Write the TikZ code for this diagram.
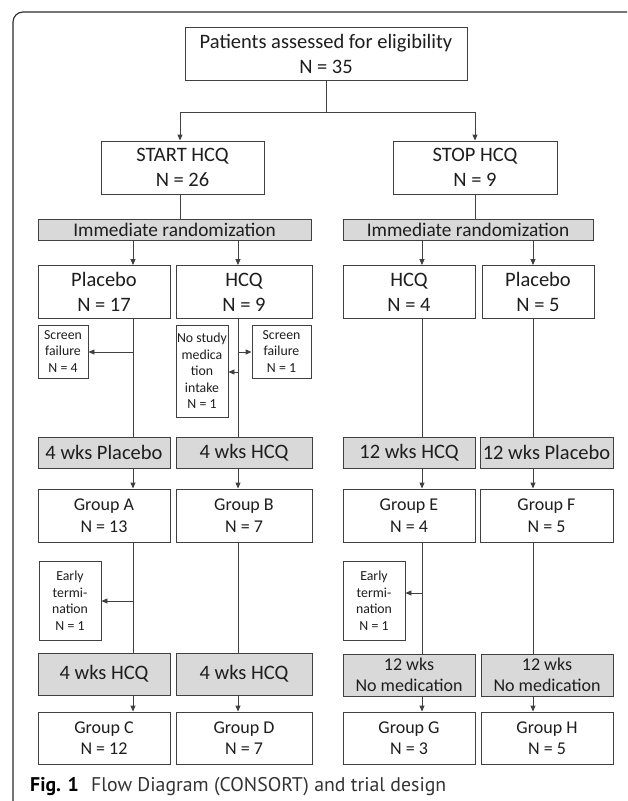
\documentclass[tikz,border=0pt]{standalone}
\usepackage{fontspec}
\setmainfont{Carlito}
\newfontfamily\capfont{PT Sans}
\usetikzlibrary{arrows.meta}
\definecolor{ln}{HTML}{404040}
\definecolor{gfill}{HTML}{D9D9D9}
\definecolor{txt}{HTML}{1E1E1E}
\definecolor{frm}{HTML}{2A2A2A}
\definecolor{captx}{HTML}{333333}
\tikzset{
 box/.style={draw=ln, line width=0.9pt, fill=white, inner sep=0pt, align=center, text=txt, font=\fontsize{20.5}{25}\selectfont},
 gbox/.style={box, fill=gfill},
 rbox/.style={gbox, font=\fontsize{19.3}{23}\selectfont},
 sbox/.style={box, font=\fontsize{13.8}{16.6}\selectfont},
 grp/.style={box, font=\fontsize{18}{21.5}\selectfont},
 ngbox/.style={gbox, font=\fontsize{18}{21}\selectfont},
 conn/.style={draw=ln, line width=0.9pt},
 arr/.style={conn, -{Triangle[length=6pt,width=5pt]}},
}
\begin{document}
\begin{tikzpicture}[x=1pt,y=-1pt]
\useasboundingbox (0,0) rectangle (627,801);
% frame
\draw[frm, line width=1.1pt, rounded corners=10pt] (627,12) -- (13,12) -- (13,801);
% column coordinates
\coordinate (cA) at (133,0);
\coordinate (cB) at (238,0);
\coordinate (cE) at (422,0);
\coordinate (cF) at (533,0);
\coordinate (cS) at (180,0);
\coordinate (cT) at (475,0);
\coordinate (ys) at (0,112);
\coordinate (ySF) at (0,352);
\coordinate (yNS) at (0,372);
\coordinate (yETL) at (0,601);
\coordinate (yETR) at (0,593);
% nodes
\node[box, minimum width=282pt, minimum height=53pt] (top) at (326,53.5) {Patients assessed for eligibility\\N = 35};
\node[box, minimum width=163pt, minimum height=53pt] (start) at (182.5,167.5) {START HCQ\\N = 26};
\node[box, minimum width=164pt, minimum height=53pt] (stop) at (475,167.5) {STOP HCQ\\N = 9};
\node[rbox, minimum width=273pt, minimum height=21pt] (randL) at (174.5,229.5) {Immediate randomization};
\node[rbox, minimum width=250pt, minimum height=21pt] (randR) at (468,229.5) {Immediate randomization};
\node[box, minimum width=132pt, minimum height=53pt] (placeboL) at (104,292) {Placebo\\N = 17};
\node[box, minimum width=136pt, minimum height=53pt] (hcqL) at (244,292) {HCQ\\N = 9};
\node[box, minimum width=132pt, minimum height=53pt] (hcqR) at (409,292) {HCQ\\N = 4};
\node[box, minimum width=112pt, minimum height=53pt] (placeboR) at (538,292) {Placebo\\N = 5};
\node[sbox, minimum width=50pt, minimum height=53pt] (sfL) at (63,351.5) {Screen\\failure\\N = 4};
\node[sbox, minimum width=52pt, minimum height=92pt] (nostudy) at (202,371) {No study\\medica\\tion\\intake\\N = 1};
\node[sbox, minimum width=59pt, minimum height=53pt] (sfR) at (281.5,351.5) {Screen\\failure\\N = 1};
\node[gbox, minimum width=132pt, minimum height=31pt] (wk4P) at (104,452.5) {4 wks Placebo};
\node[gbox, minimum width=136pt, minimum height=31pt] (wk4H) at (244,452.5) {4 wks HCQ};
\node[gbox, minimum width=132pt, minimum height=31pt] (wk12H) at (409,452.5) {12 wks HCQ};
\node[gbox, minimum width=133pt, minimum height=31pt] (wk12P) at (546.5,452.5) {12 wks Placebo};
\node[grp, minimum width=132pt, minimum height=53pt] (grpA) at (104,515.5) {Group A\\N = 13};
\node[grp, minimum width=136pt, minimum height=53pt] (grpB) at (244,515.5) {Group B\\N = 7};
\node[grp, minimum width=132pt, minimum height=53pt] (grpE) at (409,515.5) {Group E\\N = 4};
\node[grp, minimum width=133pt, minimum height=53pt] (grpF) at (546.5,515.5) {Group F\\N = 5};
\node[sbox, minimum width=62pt, minimum height=79pt] (etL) at (70,600.5) {Early\\termi-\\nation\\N = 1};
\node[sbox, minimum width=62pt, minimum height=79pt] (etR) at (374,600.5) {Early\\termi-\\nation\\N = 1};
\node[gbox, minimum width=132pt, minimum height=42pt] (wk4C) at (104,674) {4 wks HCQ};
\node[gbox, minimum width=136pt, minimum height=42pt] (wk4D) at (244,674) {4 wks HCQ};
\node[ngbox, minimum width=132pt, minimum height=42pt] (nmG) at (409,675) {12 wks\\No medication};
\node[ngbox, minimum width=132pt, minimum height=42pt] (nmH) at (547,675) {12 wks\\No medication};
\node[grp, minimum width=132pt, minimum height=52pt] (grpC) at (104,738) {Group C\\N = 12};
\node[grp, minimum width=136pt, minimum height=52pt] (grpD) at (244,738) {Group D\\N = 7};
\node[grp, minimum width=132pt, minimum height=52pt] (grpG) at (409,738) {Group G\\N = 3};
\node[grp, minimum width=132pt, minimum height=52pt] (grpH) at (547,738) {Group H\\N = 5};
% connectors
\draw[conn] (top.south) -- (top.south |- ys);
\draw[arr] (top.south |- ys) -| (start.north -| cS);
\draw[arr] (top.south |- ys) -| (stop.north -| cT);
\draw[conn] (start.south -| cS) -- (randL.north -| cS);
\draw[conn] (stop.south -| cT) -- (randR.north -| cT);
\draw[arr] (randL.south -| cA) -- (placeboL.north -| cA);
\draw[arr] (randL.south -| cB) -- (hcqL.north -| cB);
\draw[arr] (randR.south -| cE) -- (hcqR.north -| cE);
\draw[arr] (randR.south -| cF) -- (placeboR.north -| cF);
\draw[conn] (placeboL.south -| cA) -- (wk4P.north -| cA);
\draw[arr] (cA |- ySF) -- (sfL.east |- ySF);
\draw[conn] (hcqL.south -| cB) -- (wk4H.north -| cB);
\draw[arr] (cB |- ySF) -- (sfR.west |- ySF);
\draw[arr] (cB |- yNS) -- (nostudy.east |- yNS);
\draw[conn] (hcqR.south -| cE) -- (wk12H.north -| cE);
\draw[conn] (placeboR.south -| cF) -- (wk12P.north -| cF);
\draw[arr] (wk4P.south -| cA) -- (grpA.north -| cA);
\draw[arr] (wk4H.south -| cB) -- (grpB.north -| cB);
\draw[arr] (wk12H.south -| cE) -- (grpE.north -| cE);
\draw[arr] (wk12P.south -| cF) -- (grpF.north -| cF);
\draw[conn] (grpA.south -| cA) -- (wk4C.north -| cA);
\draw[arr] (cA |- yETL) -- (etL.east |- yETL);
\draw[conn] (grpB.south -| cB) -- (wk4D.north -| cB);
\draw[conn] (grpE.south -| cE) -- (nmG.north -| cE);
\draw[arr] (cE |- yETR) -- (etR.east |- yETR);
\draw[conn] (grpF.south -| cF) -- (nmH.north -| cF);
\draw[arr] (wk4C.south -| cA) -- (grpC.north -| cA);
\draw[arr] (wk4D.south -| cB) -- (grpD.north -| cB);
\draw[arr] (nmG.south -| cE) -- (grpG.north -| cE);
\draw[arr] (nmH.south -| cF) -- (grpH.north -| cF);
% caption
\node[anchor=base west, inner sep=0pt, text=black, font=\capfont\bfseries\fontsize{19.8}{21}\selectfont] (fig) at (30,791) {Fig. 1};
\node[anchor=base west, inner sep=0pt, text=captx, font=\capfont\fontsize{19.8}{21}\selectfont] (captxt) at (91,791) {Flow Diagram (CONSORT) and trial design};
\end{tikzpicture}
\end{document}
